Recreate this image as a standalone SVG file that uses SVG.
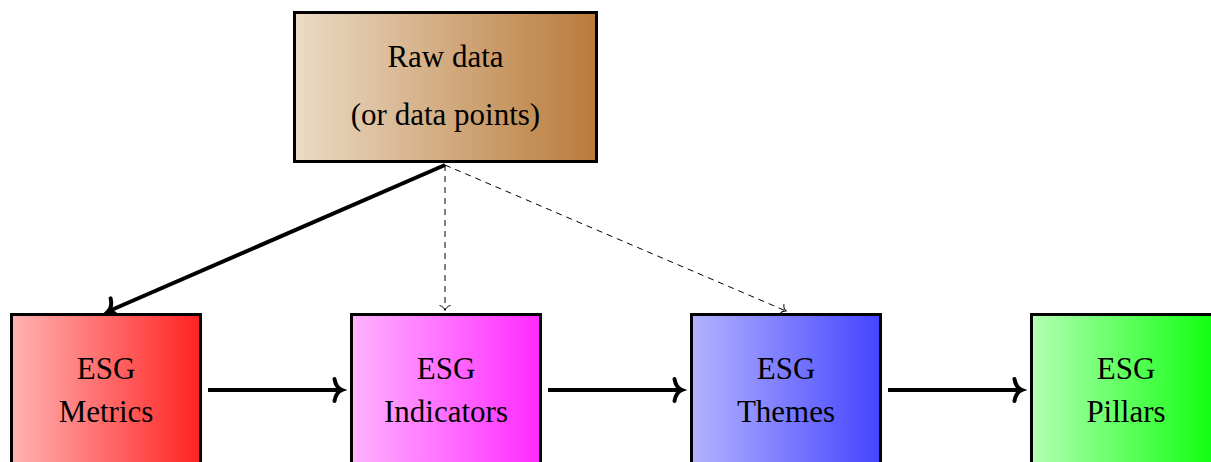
<svg xmlns="http://www.w3.org/2000/svg" width="1211" height="462" viewBox="0 0 1211 462">
<style>
.box{stroke:#000;stroke-width:3}
.lbl{font-family:"Liberation Serif","DejaVu Serif",serif;font-size:31px;fill:#000;text-anchor:middle}
.thick{stroke:#000;stroke-width:4;fill:none}
.dash{stroke:#000;stroke-width:1;fill:none;stroke-dasharray:6 5}
</style>
<defs>
<linearGradient id="gRaw" x1="0" y1="0" x2="1" y2="0"><stop offset="0" stop-color="#ebdbc6"/><stop offset="1" stop-color="#b97b3b"/></linearGradient>
<linearGradient id="gRed" x1="0" y1="0" x2="1" y2="0"><stop offset="0" stop-color="#ffb3b3"/><stop offset="1" stop-color="#ff2222"/></linearGradient>
<linearGradient id="gMag" x1="0" y1="0" x2="1" y2="0"><stop offset="0" stop-color="#ffb3ff"/><stop offset="1" stop-color="#ff2aff"/></linearGradient>
<linearGradient id="gBlue" x1="0" y1="0" x2="1" y2="0"><stop offset="0" stop-color="#b3b3ff"/><stop offset="1" stop-color="#4444ff"/></linearGradient>
<linearGradient id="gGreen" x1="0" y1="0" x2="1" y2="0"><stop offset="0" stop-color="#b3ffb3"/><stop offset="1" stop-color="#0aff0a"/></linearGradient>
<marker id="arrT" viewBox="-10 -13 13 26" refX="0" refY="0" markerWidth="13" markerHeight="26" markerUnits="userSpaceOnUse" orient="auto" overflow="visible">
<path d="M-6.5,-11 C-5.5,-4.5 -1.5,-1 1,0 C-1.5,1 -5.5,4.5 -6.5,11" fill="none" stroke="#000" stroke-width="4" stroke-linecap="round"/>
</marker>
<marker id="arrD" viewBox="-8 -8 10 16" refX="0" refY="0" markerWidth="10" markerHeight="16" markerUnits="userSpaceOnUse" orient="auto" overflow="visible">
<path d="M-4.5,-5.5 C-4,-2.5 -1.5,-0.5 0.5,0 C-1.5,0.5 -4,2.5 -4.5,5.5" fill="none" stroke="#000" stroke-width="1"/>
</marker>
</defs>
<rect width="1211" height="462" fill="#fff"/>
<g id="connectors">
<path class="thick" d="M445,165 L109,311" marker-end="url(#arrT)"/>
<path class="dash" d="M445,165 L445,310" marker-end="url(#arrD)"/>
<path class="dash" d="M445,165 L786,311" marker-end="url(#arrD)"/>
<path class="thick" d="M208,390 L341,390" marker-end="url(#arrT)"/>
<path class="thick" d="M548,390 L681,390" marker-end="url(#arrT)"/>
<path class="thick" d="M888,390 L1021,390" marker-end="url(#arrT)"/>
</g>
<g id="raw">
<rect class="box" x="294.5" y="12.5" width="302" height="149" fill="url(#gRaw)"/>
<text class="lbl" x="445.5" y="67">Raw data</text>
<text class="lbl" x="445.5" y="125">(or data points)</text>
</g>
<g id="metrics">
<rect class="box" x="11.5" y="314.5" width="189" height="160" fill="url(#gRed)"/>
<text class="lbl" x="106" y="379">ESG</text>
<text class="lbl" x="106" y="422">Metrics</text>
</g>
<g id="indicators">
<rect class="box" x="351.5" y="314.5" width="189" height="160" fill="url(#gMag)"/>
<text class="lbl" x="446" y="379">ESG</text>
<text class="lbl" x="446" y="422">Indicators</text>
</g>
<g id="themes">
<rect class="box" x="691.5" y="314.5" width="189" height="160" fill="url(#gBlue)"/>
<text class="lbl" x="786" y="379">ESG</text>
<text class="lbl" x="786" y="422">Themes</text>
</g>
<g id="pillars">
<rect class="box" x="1031.5" y="314.5" width="189" height="160" fill="url(#gGreen)"/>
<text class="lbl" x="1126" y="379">ESG</text>
<text class="lbl" x="1126" y="422">Pillars</text>
</g>
</svg>
